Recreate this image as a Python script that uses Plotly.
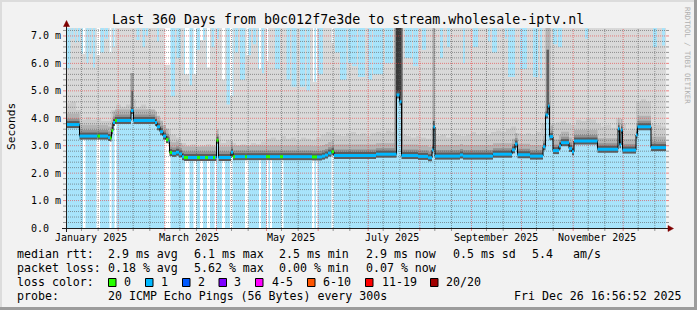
import bisect
import pandas as pd
import plotly.graph_objects as go

# ---------------- data ----------------
START = pd.Timestamp("2024-12-31 16:56:52")
SPAN_DAYS = 360
TOP = 7.29  # ms at top of plot

# median rtt (ms) as step changes: day offset since START, value, loss class
med_day = [0, 8.1, 18.9, 20.4, 25.2, 26.4, 27.3, 28.2, 29.4, 30.6,
           39.0, 40.5, 53.4, 54.6, 56.4, 58.2, 60.0, 61.5, 62.1, 63.6,
           66.0, 67.8, 69.6, 70.8, 73.2, 78.6, 80.4, 83.4, 85.2, 88.2,
           89.4, 90.3, 91.5, 99.0, 100.2, 101.4, 107.4, 108.6, 120.0, 122.4,
           128.4, 130.2, 147.6, 150.6, 153.6, 155.4, 157.2, 159.3, 160.8, 186.0,
           198.3, 200.1, 201.3, 211.2, 217.2, 219.6, 220.4, 221.4, 236.4, 238.2,
           256.2, 267.6, 269.4, 270.9, 278.4, 286.2, 287.7, 289.2, 290.1, 292.2,
           295.8, 297.0, 301.8, 303.6, 304.8, 318.9, 331.2, 332.1, 333.0, 333.9,
           342.0, 342.9, 351.0]
med_val = [3.77, 3.35, 3.35, 3.35, 3.30, 3.28, 3.55, 3.85, 3.92, 3.92,
           4.28, 3.92, 3.85, 3.69, 3.51, 3.35, 3.22, 3.18, 2.75, 2.72,
           2.76, 2.70, 2.60, 2.57, 2.57, 2.57, 2.57, 2.57, 2.57, 2.57,
           2.57, 3.20, 2.57, 2.76, 2.60, 2.60, 2.60, 2.60, 2.60, 2.60,
           2.60, 2.60, 2.59, 2.59, 2.62, 2.66, 2.73, 2.78, 2.64, 2.69,
           4.85, 4.60, 2.64, 2.61, 2.56, 2.84, 3.68, 2.62, 2.66, 2.62,
           2.69, 2.85, 3.06, 2.67, 2.62, 2.96, 4.12, 4.45, 3.33, 2.82,
           2.99, 3.11, 2.90, 2.78, 3.17, 2.87, 3.62, 3.03, 3.57, 2.84,
           3.39, 3.69, 2.93]
med_loss = [1, 1, 0, 1, 1, 0, 0, 1, 0, 1,
            1, 1, 1, 1, 1, 1, 0, 1, 0, 1,
            1, 1, 1, 0, 1, 0, 1, 0, 1, 0,
            1, 0, 1, 1, 0, 1, 0, 1, 0, 1,
            0, 1, 0, 1, 1, 1, 1, 0, 1, 1,
            1, 1, 1, 1, 1, 1, 1, 1, 1, 1,
            1, 1, 1, 1, 1, 1, 1, 1, 1, 1,
            1, 1, 1, 1, 1, 1, 1, 1, 1, 1,
            1, 1, 1]

# outer smoke (light) top, one value per 3-day bucket (ms)
smoke_top = [4.55, 4.60, 4.30, 3.95, 4.05, 3.95, 4.00, 3.90, 3.90, 4.30,
             4.50, 4.40, 4.50, 4.70, 4.40, 4.50, 4.35, 4.30, 4.00, 3.75,
             3.60, 3.40, 3.30, 3.10, 3.00, 3.05, 2.95, 3.00, 3.05, 3.00,
             3.35, 3.10, 3.20, 3.10, 3.00, 3.05, 3.00, 3.10, 3.05, 3.15,
             3.25, 3.30, 3.20, 3.35, 3.25, 3.30, 3.20, 3.30, 3.25, 3.20,
             3.30, 3.40, 3.50, 3.45, 3.40, 3.35, 3.45, 3.50, 3.40, 3.45,
             3.35, 3.45, 3.50, 3.45, 3.55, 3.50, 3.60, 3.40, 3.35, 3.30,
             3.35, 3.30, 3.25, 3.60, 3.35, 3.40, 3.30, 3.45, 3.40, 3.35,
             3.40, 3.50, 3.40, 3.45, 3.40, 3.50, 3.55, 3.50, 3.60, 3.70,
             3.45, 3.40, 3.45, 3.40, 3.50, 3.80, 4.80, 3.80, 3.85, 3.90,
             3.80, 3.75, 3.95, 3.90, 4.00, 3.95, 3.80, 3.70, 3.75, 3.65,
             4.00, 3.80, 3.55, 3.60, 4.60, 4.70, 4.60, 3.80, 3.75, 3.70]

# intervals where the max rtt stays below the top of the graph (day from, day to, ms)
strip_from = [0.0, 3.3, 5.4, 7.2, 9.3, 12.3, 14.1, 16.2, 18.3, 20.7,
              23.4, 26.1, 28.2, 42.3, 45.9, 48.0, 54.6, 59.1, 62.7, 66.3,
              70.8, 74.1, 75.9, 78.3, 80.4, 84.3, 87.3, 90.3, 93.6, 96.3,
              98.4, 101.4, 104.4, 108.3, 112.2, 115.2, 117.6, 120.0, 125.4, 132.3,
              135.3, 140.4, 144.3, 148.2, 151.2, 159.3, 161.4, 164.4, 169.2, 171.6,
              175.2, 181.2, 184.2, 191.4, 203.4, 208.2, 213.6, 224.4, 228.6, 238.2,
              244.2, 253.2, 255.6, 263.4, 265.2, 272.4, 280.2, 284.4, 292.2, 295.2,
              311.4, 352.2, 357.6]
strip_to = [2.7, 4.5, 6.3, 8.4, 11.7, 13.5, 15.3, 17.4, 20.4, 22.8,
            25.2, 27.3, 29.4, 44.1, 47.4, 49.2, 55.8, 62.7, 65.4, 68.7,
            74.1, 75.6, 78.3, 80.4, 83.4, 86.4, 89.1, 91.8, 95.4, 98.4,
            100.5, 103.2, 107.4, 111.0, 114.0, 117.3, 118.8, 121.5, 128.4, 134.4,
            138.3, 143.4, 146.4, 150.6, 154.2, 160.5, 164.4, 168.3, 171.6, 174.6,
            179.4, 183.6, 190.2, 196.2, 207.6, 211.2, 216.0, 226.2, 230.4, 239.4,
            247.2, 254.4, 258.6, 264.6, 269.4, 276.6, 283.2, 285.6, 294.6, 297.6,
            313.2, 354.6, 359.4]
strip_level = [5.82, 6.90, 6.75, 6.80, 6.35, 6.00, 6.35, 5.85, 6.30, 6.40,
               6.90, 6.40, 6.60, 6.85, 6.60, 7.00, 6.80, 5.95, 4.80, 6.20,
               5.60, 5.20, 5.60, 6.50, 6.85, 5.85, 6.60, 6.90, 5.40, 4.50,
               4.80, 6.40, 5.40, 6.30, 6.70, 5.80, 5.64, 6.10, 5.80, 5.40,
               5.15, 5.15, 5.00, 5.33, 5.60, 6.75, 6.40, 5.40, 6.00, 5.90,
               5.50, 5.40, 5.60, 6.00, 6.20, 5.90, 6.50, 6.20, 6.60, 6.00,
               6.60, 6.80, 6.40, 6.90, 5.50, 5.80, 5.50, 5.47, 6.70, 6.60,
               6.90, 6.60, 6.65]

# periods drawn without the light-blue background (day from, day to)
gap_from = [10.2, 18.3, 26.1, 29.1, 59.1, 71.4, 76.5, 80.4, 84.6, 89.1,
            93.6, 98.4, 107.4, 115.8, 120.3, 122.4, 129.3, 147.6, 150.0, 159.3]
gap_to = [11.7, 20.4, 27.3, 30.3, 62.7, 74.1, 78.3, 82.2, 86.4, 90.3,
          95.4, 99.9, 109.5, 117.0, 121.5, 123.6, 130.5, 149.1, 150.9, 160.5]

# dark smoke columns at latency spikes (day from, day to, top ms, shade)
spike_from = [38.7, 39.3, 197.1, 198.0, 219.9, 220.2, 287.7, 288.3]
spike_to = [40.8, 40.2, 202.2, 201.3, 221.4, 221.1, 290.7, 289.8]
spike_top = [5.65, 5.00, 7.29, 7.29, 7.29, 3.90, 7.29, 6.50]
spike_shade = ["#a0a0a0", "#5a5a5a", "#8a8a8a", "#383838", "#a8a8a8", "#505050", "#b4b4b4", "#606060"]

loss_labels = ["0", "1", "2", "3", "4-5", "6-10", "11-19", "20/20"]
loss_colors = ["#26ff00", "#00b8ff", "#0059ff", "#7e00ff", "#ff00ff", "#ff5500", "#ff0000", "#a10000"]

y_tick_vals = [0, 1, 2, 3, 4, 5, 6, 7]
y_tick_text = ["0.0", "1.0 m", "2.0 m", "3.0 m", "4.0 m", "5.0 m", "6.0 m", "7.0 m"]
month_label_dates = ["2025-01-15 12:00", "2025-03-15 12:00", "2025-05-15 12:00",
                     "2025-07-15 12:00", "2025-09-15 12:00", "2025-11-15 12:00"]
month_label_text = ["January 2025", "March 2025", "May 2025", "July 2025",
                    "September 2025", "November 2025"]

stats_rtt = ["median rtt:", "2.9 ms avg", "6.1 ms max", "2.5 ms min", "2.9 ms now", "0.5 ms sd", "5.4", "am/s"]
stats_loss = ["packet loss:", "0.18 % avg", "5.62 % max", "0.00 % min", "0.07 % now"]
probe_text = ["probe:", "20 ICMP Echo Pings (56 Bytes) every 300s", "Fri Dec 26 16:56:52 2025"]
title = "Last 360 Days from b0c012f7e3de to stream.wholesale-iptv.nl"

# ---------------- styling / geometry ----------------
W, H = 697, 310
PL, PR, PT, PB = 66, 666, 28, 228      # plot area in pixels
BLUE = "#a8e4fb"
MONO = "DejaVu Sans Mono"
GRID = "rgba(90,90,90,0.6)"
MGRID = "rgba(235,60,60,0.6)"


def dd(ts):
    """days since START for a timestamp"""
    return (pd.Timestamp(ts) - START) / pd.Timedelta(days=1)


def PX(px):
    return (px - PL) / (PR - PL)


def PY(py):
    return (PB - py) / (PB - PT)


def med_at(t):
    return med_val[bisect.bisect_right(med_day, t) - 1]


def in_gap(t):
    return any(a <= t < b for a, b in zip(gap_from, gap_to))


fig = go.Figure()
END_D = SPAN_DAYS
seg_end = med_day[1:] + [END_D]

# 1. light-blue background with gaps
bx, by = [0], [TOP]
for a, b in zip(gap_from, gap_to):
    bx += [a, b]
    by += [0, TOP]
bx.append(END_D); by.append(TOP)
fig.add_trace(go.Scatter(x=bx, y=by, mode="lines", line=dict(width=0, shape="hv"),
                         fill="tozeroy", fillcolor=BLUE, hoverinfo="skip"))

med_x = med_day + [END_D]
med_y = med_val + [med_val[-1]]

# 2. outer smoke: median .. max
sx, sy = [0], [TOP]
for a, b, lv in zip(strip_from, strip_to, strip_level):
    sx += [a, b]
    sy += [lv, TOP]
sx.append(END_D); sy.append(TOP)
fig.add_trace(go.Scatter(x=med_x, y=med_y, mode="lines", line=dict(width=0, shape="hv"), hoverinfo="skip"))
fig.add_trace(go.Scatter(x=sx, y=sy, mode="lines", line=dict(width=0, shape="hv"),
                         fill="tonexty", fillcolor="#d9d9d9", hoverinfo="skip"))

# 3. light smoke layer
n = len(smoke_top)
step = SPAN_DAYS / n
tx = [i * step for i in range(n)] + [END_D]
ty = smoke_top + [smoke_top[-1]]
fig.add_trace(go.Scatter(x=med_x, y=med_y, mode="lines", line=dict(width=0, shape="hv"), hoverinfo="skip"))
fig.add_trace(go.Scatter(x=tx, y=ty, mode="lines", line=dict(width=0, shape="hv"),
                         fill="tonexty", fillcolor="#cbcbcb", hoverinfo="skip"))

# 4. inner smoke bands around the median (one short horizontal piece per median step)
for wdt, col in [(22, "#b3b3b3"), (12, "#939393")]:
    for a, b, v in zip(med_day, seg_end, med_val):
        fig.add_trace(go.Scatter(x=[a, b], y=[v, v], mode="lines", line=dict(width=wdt, color=col),
                                 hoverinfo="skip"))

# 5. spike columns
for a, b, tp, col in zip(spike_from, spike_to, spike_top, spike_shade):
    fig.add_trace(go.Scatter(x=[a, b, b, a, a], y=[2.0, 2.0, tp, tp, 2.0], mode="lines",
                             line=dict(width=0), fill="toself", fillcolor=col, hoverinfo="skip"))

# 6. area below the median: white, then blue except in gaps
fig.add_trace(go.Scatter(x=med_x, y=med_y, mode="lines", line=dict(width=0, shape="hv"),
                         fill="tozeroy", fillcolor="#ffffff", hoverinfo="skip"))
pts = sorted(set(med_day + gap_from + gap_to))
lx = pts + [END_D]
ly = [0 if in_gap(t) else med_at(t) for t in pts]
ly.append(ly[-1])
fig.add_trace(go.Scatter(x=lx, y=ly, mode="lines", line=dict(width=0, shape="hv"),
                         fill="tozeroy", fillcolor=BLUE, hoverinfo="skip"))

# 7. dotted grid (over the areas, under the median line)
grid_x = {False: [], True: []}
grid_y = {False: [], True: []}
for k in range(1, 37):
    yv = k * 0.2
    major = k % 5 == 0
    grid_x[major] += [0, END_D, None]
    grid_y[major] += [yv, yv, None]
vgrid_days = []
months = pd.date_range("2025-01-01", "2025-12-01", freq="MS")
for m in months:
    for day, major in [(1, True), (10, False), (20, False)]:
        t = dd(m + pd.Timedelta(days=day - 1))
        if t <= 1 or t >= SPAN_DAYS:
            continue
        vgrid_days.append((t, major))
        grid_x[major] += [t, t, None]
        grid_y[major] += [0, TOP, None]
for major in (False, True):
    fig.add_trace(go.Scatter(x=grid_x[major], y=grid_y[major], mode="lines",
                             line=dict(width=1, color=MGRID if major else GRID, dash="1px,1px"),
                             hoverinfo="skip"))

# 8. dark band, median line, loss-coloured median pieces
for a, b, v in zip(med_day, seg_end, med_val):
    fig.add_trace(go.Scatter(x=[a, b], y=[v, v], mode="lines", line=dict(width=7, color="#5c5c5c"),
                             hoverinfo="skip"))
fig.add_trace(go.Scatter(x=med_x, y=med_y, mode="lines", line=dict(width=1, color="#000000", shape="hv"),
                         hoverinfo="skip"))
for a, b, v, c in zip(med_day, seg_end, med_val, med_loss):
    fig.add_trace(go.Scatter(x=[a, b], y=[v, v], mode="lines", line=dict(width=3, color=loss_colors[c]),
                             hoverinfo="skip"))

# ---------------- grid ticks outside the canvas, axes, frame ----------------
shapes = []
for k in range(1, 37):
    yv = k * 0.2
    col = MGRID if k % 5 == 0 else GRID
    for x0, x1 in [(63, 66), (666, 669)]:
        shapes.append(dict(type="line", xref="paper", yref="y", x0=PX(x0), x1=PX(x1), y0=yv, y1=yv,
                           line=dict(color=col, width=1), layer="above"))
for t, major in vgrid_days:
    shapes.append(dict(type="line", xref="x", yref="paper", x0=t, x1=t, y0=PY(231), y1=PY(228),
                       line=dict(color=MGRID if major else GRID, width=1), layer="above"))
AX = "#1e1e1e"
ARROW = "#7f0000"
shapes.append(dict(type="line", xref="paper", yref="paper", x0=PX(62), x1=PX(670), y0=PY(228.5), y1=PY(228.5),
                   line=dict(color=AX, width=1), layer="above"))
shapes.append(dict(type="line", xref="paper", yref="paper", x0=PX(66.5), x1=PX(66.5), y0=PY(232), y1=PY(25),
                   line=dict(color=AX, width=1), layer="above"))
shapes.append(dict(type="path", xref="paper", yref="paper",
                   path=f"M {PX(668)} {PY(225.5)} L {PX(673.5)} {PY(228.5)} L {PX(668)} {PY(231.5)} Z",
                   fillcolor=ARROW, line=dict(color=ARROW, width=0.5), layer="above"))
shapes.append(dict(type="path", xref="paper", yref="paper",
                   path=f"M {PX(63.5)} {PY(26.5)} L {PX(66.5)} {PY(20.5)} L {PX(69.5)} {PY(26.5)} Z",
                   fillcolor=ARROW, line=dict(color=ARROW, width=0.5), layer="above"))
# outer frame (light top/left, dark bottom/right)
shapes.append(dict(type="rect", xref="paper", yref="paper", x0=PX(0), x1=PX(W), y0=PY(0), y1=PY(2),
                   fillcolor="#dcdcdc", line=dict(width=0), layer="above"))
shapes.append(dict(type="rect", xref="paper", yref="paper", x0=PX(0), x1=PX(2), y0=PY(0), y1=PY(H),
                   fillcolor="#dcdcdc", line=dict(width=0), layer="above"))
shapes.append(dict(type="rect", xref="paper", yref="paper", x0=PX(0), x1=PX(W), y0=PY(H - 3), y1=PY(H),
                   fillcolor="#9c9c9c", line=dict(width=0), layer="above"))
shapes.append(dict(type="rect", xref="paper", yref="paper", x0=PX(W - 3), x1=PX(W), y0=PY(0), y1=PY(H),
                   fillcolor="#9c9c9c", line=dict(width=0), layer="above"))

# ---------------- text ----------------
ann = []


def text(px, py, s, size, xanchor="left", color="#000000", angle=0, xref="paper"):
    ann.append(dict(x=px if xref == "x" else PX(px), y=PY(py), xref=xref, yref="paper", text=s,
                    showarrow=False, xanchor=xanchor, yanchor="middle", textangle=angle,
                    font=dict(family=MONO, size=size, color=color)))


text(348, 19, title, 13.3, xanchor="center")
for v, s in zip(y_tick_vals, y_tick_text):
    text(28.5, PB - v * (PB - PT) / TOP, s, 10)
for d, s in zip(month_label_dates, month_label_text):
    text(dd(d), 237.5, s, 10, xanchor="center", xref="x")
text(11, 127, "Seconds", 11.2, xanchor="center", angle=-90)
text(688, 55, "RRDTOOL / TOBI OETIKER", 7.3, xanchor="center", color="#b0b0b0", angle=90)

row_x = [15, 106, 192, 277, 364, 450.5, 529.5, 570.5]
for s, x in zip(stats_rtt, row_x):
    text(x, 254, s, 11.6)
for s, x in zip(stats_loss, row_x):
    text(x, 268, s, 11.6)
text(15, 282, "loss color:", 11.6)
box_x = [108.5, 145.5, 182.5, 219, 255.5, 307.5, 365.5, 430.5]
lab_x = [122.3, 159, 195.7, 232.3, 269.7, 320.7, 379.7, 444]
for bxp, lxp, lab, col in zip(box_x, lab_x, loss_labels, loss_colors):
    shapes.append(dict(type="rect", xref="paper", yref="paper", x0=PX(bxp), x1=PX(bxp + 7.5),
                       y0=PY(286.5), y1=PY(278.5), fillcolor=col, line=dict(color="#000000", width=1),
                       layer="above"))
    text(lxp, 282, lab, 11.6)
text(15, 296, probe_text[0], 11.6)
text(106, 296, probe_text[1], 11.6)
text(512.3, 296, probe_text[2], 11.6)

fig.update_layout(
    width=W, height=H, margin=dict(l=PL, r=W - PR, t=PT, b=H - PB),
    paper_bgcolor="#f2f2f2", plot_bgcolor="#ffffff", showlegend=False,
    xaxis=dict(range=[0, SPAN_DAYS], visible=False, fixedrange=True),
    yaxis=dict(range=[0, TOP], visible=False, fixedrange=True),
    shapes=shapes, annotations=ann,
)
fig.write_html("out.html", config={"displayModeBar": False, "staticPlot": True})
